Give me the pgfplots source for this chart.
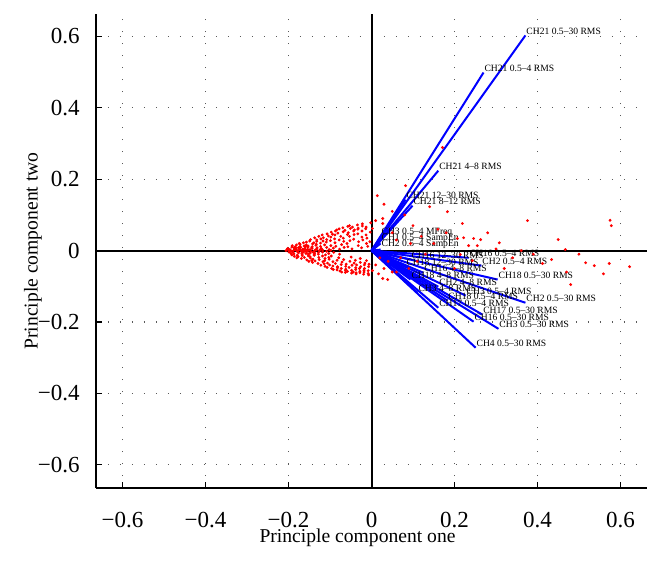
\documentclass[border=0pt]{standalone}
\usepackage{pgfplots}
\pgfplotsset{compat=1.18}
\usepackage{fontspec}
\setmainfont{Liberation Serif}
\begin{document}
\begin{tikzpicture}
\useasboundingbox (-48pt,-38pt) rectangle (282pt,244pt);
\begin{axis}[
  at={(0,0)}, anchor=south west,
  scale only axis, width=275.5pt, height=237pt,
  xmin=-0.664, xmax=0.664, ymin=-0.665, ymax=0.663,
  axis x line*=bottom, axis y line*=left,
  axis line style={-, line width=0.7pt},
  tick align=inside, major tick length=3pt,
  tick style={black, line width=0.6pt},
  xtick={-0.6,-0.4,-0.2,0,0.2,0.4,0.6},
  ytick={-0.6,-0.4,-0.2,0,0.2,0.4,0.6},
  xticklabels={−0.6,−0.4,−0.2,0,0.2,0.4,0.6},
  yticklabels={−0.6,−0.4,−0.2,0,0.2,0.4,0.6},
  xticklabel style={anchor=center, yshift=-16pt, font=\fontsize{11.5}{13}\selectfont},
  yticklabel style={anchor=east, inner sep=0pt, xshift=-8pt, font=\fontsize{11.5}{13}\selectfont},
  grid=major,
  major grid style={black!65, line width=0.6pt, dash pattern=on 0.6pt off 5.4pt},
  xlabel={Principle component one},
  ylabel={Principle component two},
  label style={font=\fontsize{9.8}{12}\selectfont},
  xlabel style={at={(axis description cs:0.4746,0)}, anchor=center, yshift=-25pt},
  ylabel style={at={(axis description cs:-0.1143,0.5)}, anchor=center},
  clip=false,
]
\draw[black, line width=1pt] (axis cs:0,-0.665) -- (axis cs:0,0.663);
\draw[black, line width=1pt] (axis cs:-0.664,0) -- (axis cs:0.664,0);

\addplot[only marks, mark=*, mark size=0.5pt, red, mark options={draw=red, fill=red}] table {
x y
-0.206 0.000
-0.203 0.004
-0.199 -0.004
-0.202 0.006
-0.197 0.001
-0.194 -0.008
-0.197 0.003
-0.192 0.010
-0.196 -0.002
-0.188 0.000
-0.192 -0.012
-0.187 0.008
-0.191 0.014
-0.189 -0.005
-0.183 0.004
-0.187 -0.009
-0.184 0.011
-0.186 -0.016
-0.182 0.002
-0.178 -0.003
-0.182 0.007
-0.179 -0.013
-0.181 0.016
-0.177 0.001
-0.180 -0.020
-0.173 0.005
-0.176 -0.006
-0.172 0.012
-0.177 -0.017
-0.174 0.020
-0.168 -0.001
-0.171 0.009
-0.167 -0.010
-0.172 0.018
-0.169 -0.022
-0.166 0.004
-0.163 0.002
-0.167 -0.014
-0.162 0.013
-0.166 -0.005
-0.164 0.022
-0.158 -0.008
-0.161 0.006
-0.157 0.016
-0.162 -0.019
-0.159 0.001
-0.156 -0.026
-0.153 0.010
-0.156 -0.003
-0.152 -0.015
-0.157 0.024
-0.154 0.004
-0.151 -0.030
-0.198 0.002
-0.193 -0.001
-0.186 0.003
-0.179 -0.002
-0.171 0.001
-0.163 -0.003
-0.155 0.001
-0.148 0.003
-0.141 -0.004
-0.133 0.002
-0.126 -0.001
-0.118 0.002
-0.108 -0.002
-0.098 0.001
-0.176 0.008
-0.168 -0.007
-0.159 0.011
-0.152 -0.009
-0.144 0.009
-0.137 -0.007
-0.148 -0.007
-0.153 0.013
-0.147 -0.021
-0.151 0.001
-0.149 0.027
-0.152 -0.012
-0.143 0.006
-0.148 -0.017
-0.142 0.019
-0.146 -0.002
-0.144 -0.028
-0.147 0.031
-0.138 -0.010
-0.143 0.011
-0.137 0.000
-0.141 -0.024
-0.139 0.022
-0.142 -0.033
-0.133 0.004
-0.138 -0.013
-0.132 0.026
-0.136 -0.029
-0.134 0.015
-0.137 0.036
-0.128 -0.006
-0.133 0.018
-0.127 -0.019
-0.131 0.008
-0.129 -0.036
-0.132 0.030
-0.123 0.012
-0.128 -0.010
-0.122 0.033
-0.126 -0.025
-0.124 0.002
-0.127 0.040
-0.118 -0.015
-0.123 0.021
-0.117 -0.031
-0.121 0.006
-0.119 0.044
-0.122 -0.041
-0.113 0.016
-0.118 -0.004
-0.112 -0.022
-0.116 0.036
-0.114 -0.037
-0.117 0.027
-0.108 0.009
-0.113 -0.028
-0.107 0.047
-0.111 -0.012
-0.109 0.024
-0.112 -0.044
-0.103 -0.019
-0.108 0.031
-0.102 0.003
-0.106 -0.035
-0.104 0.041
-0.107 -0.047
-0.098 0.014
-0.103 -0.008
-0.097 0.052
-0.101 -0.040
-0.099 0.028
-0.102 -0.024
-0.093 -0.031
-0.098 0.038
-0.092 0.007
-0.096 -0.050
-0.094 0.046
-0.097 -0.015
-0.088 0.022
-0.093 -0.043
-0.087 0.055
-0.091 -0.005
-0.089 0.033
-0.092 -0.053
-0.083 -0.027
-0.088 0.044
-0.082 -0.048
-0.086 0.012
-0.084 0.058
-0.087 -0.036
-0.078 0.030
-0.083 -0.054
-0.077 0.004
-0.081 0.049
-0.079 -0.020
-0.082 -0.045
-0.073 -0.039
-0.078 0.061
-0.072 0.017
-0.076 -0.057
-0.074 0.040
-0.077 -0.010
-0.068 0.053
-0.073 -0.050
-0.067 0.026
-0.071 -0.032
-0.069 0.064
-0.072 -0.060
-0.063 -0.055
-0.068 0.035
-0.062 -0.044
-0.066 0.009
-0.064 0.057
-0.067 -0.025
-0.058 0.045
-0.063 -0.061
-0.057 0.068
-0.061 -0.038
-0.059 0.020
-0.062 -0.052
-0.053 0.070
-0.058 -0.058
-0.052 -0.030
-0.056 0.050
-0.054 -0.047
-0.057 0.011
-0.048 -0.063
-0.053 0.040
-0.047 -0.041
-0.051 0.062
-0.049 -0.018
-0.052 0.028
-0.043 0.055
-0.048 -0.055
-0.042 -0.035
-0.046 0.066
-0.044 -0.060
-0.047 0.005
-0.038 -0.048
-0.043 0.032
-0.037 -0.062
-0.041 0.058
-0.039 -0.027
-0.042 0.045
-0.033 0.060
-0.038 -0.053
-0.032 0.014
-0.036 -0.040
-0.034 0.072
-0.037 -0.065
-0.028 -0.058
-0.033 0.047
-0.027 -0.033
-0.031 0.025
-0.029 -0.050
-0.032 0.063
-0.023 0.038
-0.028 -0.062
-0.022 0.069
-0.026 -0.045
-0.024 0.008
-0.027 -0.022
-0.018 -0.055
-0.023 0.055
-0.017 -0.040
-0.021 0.030
-0.019 -0.066
-0.022 0.075
-0.013 0.044
-0.018 -0.060
-0.012 0.020
-0.016 -0.035
-0.014 0.061
-0.017 -0.050
-0.008 -0.064
-0.013 0.066
-0.007 -0.045
-0.011 0.035
-0.009 0.012
-0.012 -0.028
-0.003 0.052
-0.008 -0.056
-0.002 0.078
-0.006 -0.038
-0.004 0.025
-0.007 -0.068
0.002 -0.056
0.017 -0.065
0.027 -0.078
0.039 -0.081
0.010 -0.040
0.030 -0.050
0.050 -0.060
0.020 -0.020
0.014 0.154
0.082 0.182
0.171 0.289
0.140 0.123
0.183 0.109
0.219 0.076
0.376 0.084
0.207 0.034
0.222 0.036
0.246 0.034
0.263 0.031
0.450 0.031
0.467 0.003
0.010 0.084
0.027 0.090
0.002 0.062
0.027 0.076
0.094 0.020
0.234 0.014
0.255 0.014
0.308 0.022
0.361 0.000
0.214 -0.011
0.243 -0.028
0.412 -0.036
0.434 -0.025
0.516 -0.034
0.537 -0.042
0.573 -0.036
0.622 -0.045
0.559 -0.065
0.480 -0.095
0.575 0.085
0.578 0.070
0.050 0.050
0.060 0.030
0.040 -0.030
0.070 -0.020
0.120 0.040
0.150 0.020
0.130 -0.010
0.100 0.070
0.080 0.100
0.050 0.110
0.030 0.130
0.160 0.060
0.180 0.050
0.300 0.005
0.320 -0.050
0.340 -0.020
0.280 0.050
0.390 -0.010
0.500 -0.010
0.470 -0.060
0.200 -0.050
0.060 -0.060
0.090 -0.050
0.110 -0.030
};

\addplot[blue, line width=1pt] coordinates {(0,0) (0.371,0.603)};
\addplot[blue, line width=1pt] coordinates {(0,0) (0.270,0.499)};
\addplot[blue, line width=1pt] coordinates {(0,0) (0.161,0.224)};
\addplot[blue, line width=1pt] coordinates {(0,0) (0.082,0.143)};
\addplot[blue, line width=1pt] coordinates {(0,0) (0.099,0.126)};
\addplot[blue, line width=1pt] coordinates {(0,0) (0.022,0.036)};
\addplot[blue, line width=1pt] coordinates {(0,0) (0.022,0.020)};
\addplot[blue, line width=1pt] coordinates {(0,0) (0.022,0.003)};
\addplot[blue, line width=1pt] coordinates {(0,0) (0.234,-0.020)};
\addplot[blue, line width=1pt] coordinates {(0,0) (0.265,-0.042)};
\addplot[blue, line width=1pt] coordinates {(0,0) (0.094,-0.025)};
\addplot[blue, line width=1pt] coordinates {(0,0) (0.082,-0.045)};
\addplot[blue, line width=1pt] coordinates {(0,0) (0.125,-0.062)};
\addplot[blue, line width=1pt] coordinates {(0,0) (0.094,-0.081)};
\addplot[blue, line width=1pt] coordinates {(0,0) (0.304,-0.081)};
\addplot[blue, line width=1pt] coordinates {(0,0) (0.161,-0.101)};
\addplot[blue, line width=1pt] coordinates {(0,0) (0.111,-0.118)};
\addplot[blue, line width=1pt] coordinates {(0,0) (0.227,-0.126)};
\addplot[blue, line width=1pt] coordinates {(0,0) (0.183,-0.140)};
\addplot[blue, line width=1pt] coordinates {(0,0) (0.371,-0.146)};
\addplot[blue, line width=1pt] coordinates {(0,0) (0.161,-0.160)};
\addplot[blue, line width=1pt] coordinates {(0,0) (0.267,-0.179)};
\addplot[blue, line width=1pt] coordinates {(0,0) (0.246,-0.199)};
\addplot[blue, line width=1pt] coordinates {(0,0) (0.306,-0.219)};
\addplot[blue, line width=1pt] coordinates {(0,0) (0.251,-0.272)};

\begin{scope}[every node/.style={anchor=south west, inner sep=0.3pt, font=\fontsize{4.8}{5}\selectfont}]
\node at (axis cs:0.371,0.603) {CH21 0.5–30 RMS};
\node at (axis cs:0.270,0.499) {CH21 0.5–4 RMS};
\node at (axis cs:0.161,0.224) {CH21 4–8 RMS};
\node at (axis cs:0.082,0.143) {CH21 12–30 RMS};
\node at (axis cs:0.099,0.126) {CH21 8–12 RMS};
\node at (axis cs:0.022,0.036) {CH3 0.5–4 MFreq};
\node at (axis cs:0.022,0.020) {CH1 0.5–4 SampEn};
\node at (axis cs:0.022,0.003) {CH2 0.5–4 SampEn};
\node at (axis cs:0.234,-0.020) {CH16 0.5–4 RMS};
\node at (axis cs:0.265,-0.042) {CH2 0.5–4 RMS};
\node at (axis cs:0.094,-0.025) {CH16 12–30 RMS};
\node at (axis cs:0.082,-0.045) {CH18 12–30 RMS};
\node at (axis cs:0.125,-0.062) {CH16 4–8 RMS};
\node at (axis cs:0.094,-0.081) {CH18 4–8 RMS};
\node at (axis cs:0.304,-0.081) {CH18 0.5–30 RMS};
\node at (axis cs:0.161,-0.101) {CH2 4–8 RMS};
\node at (axis cs:0.111,-0.118) {CH3 4–8 RMS};
\node at (axis cs:0.227,-0.126) {CH3 0.5–4 RMS};
\node at (axis cs:0.183,-0.140) {CH18 0.5–4 RMS};
\node at (axis cs:0.371,-0.146) {CH2 0.5–30 RMS};
\node at (axis cs:0.161,-0.160) {CH17 0.5–4 RMS};
\node at (axis cs:0.267,-0.179) {CH17 0.5–30 RMS};
\node at (axis cs:0.246,-0.199) {CH16 0.5–30 RMS};
\node at (axis cs:0.306,-0.219) {CH3 0.5–30 RMS};
\node at (axis cs:0.251,-0.272) {CH4 0.5–30 RMS};
\end{scope}
\end{axis}
\end{tikzpicture}
\end{document}
